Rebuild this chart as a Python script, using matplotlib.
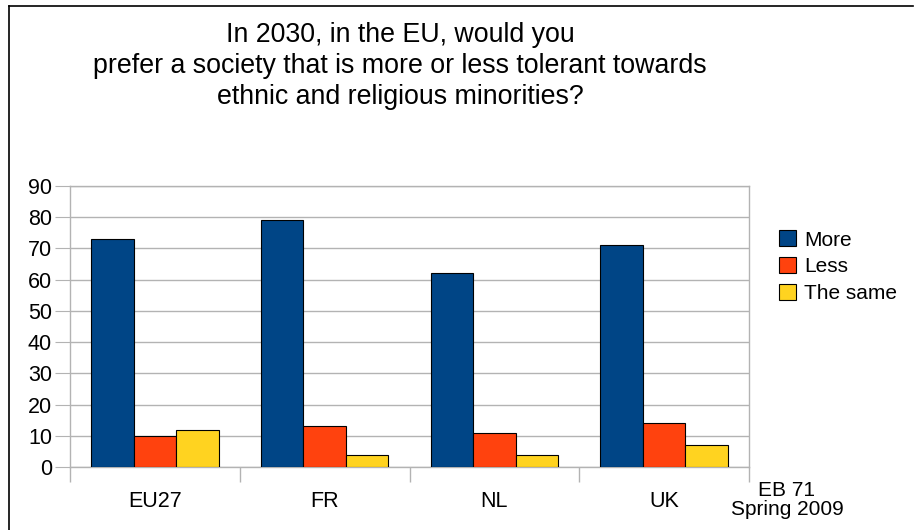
import numpy as np
import matplotlib.pyplot as plt
from matplotlib.lines import Line2D
from matplotlib.patches import Patch

# Eurobarometer 71 - tolerance towards minorities in 2030
countries = ['EU27', 'FR', 'NL', 'UK']
series_names = ['More', 'Less', 'The same']
more = [73, 79, 62, 71]
less = [10, 13, 11, 14]
same = [12, 4, 4, 7]
y_ticks = [0, 10, 20, 30, 40, 50, 60, 70, 80, 90]

colors = ['#004586', '#ff420e', '#ffd320']
grid_col = '#b3b3b3'

plt.rcParams['font.family'] = ['Liberation Sans', 'DejaVu Sans']

fig = plt.figure(figsize=(9.17, 5.30), dpi=100)
ax = fig.add_axes([70 / 917, 1 - 467 / 530, (749 - 70) / 917, (467 - 186) / 530])

x = np.arange(len(countries))
w = 0.25
for i, (vals, col) in enumerate(zip([more, less, same], colors)):
    ax.bar(x + (i - 1) * w, vals, width=w, color=col, edgecolor='black',
           linewidth=0.8, zorder=3)

ax.set_xlim(-0.5, len(countries) - 0.5)
ax.set_ylim(0, 90)
ax.set_yticks(y_ticks)
ax.tick_params(axis='y', length=11, color=grid_col, labelsize=15.5, pad=2)
ax.yaxis.grid(True, color=grid_col, linewidth=1, zorder=0)

# category labels centred, separator ticks between groups
ax.set_xticks(x)
ax.set_xticklabels(countries, fontsize=15.5)
ax.tick_params(axis='x', which='major', length=0, pad=17)
ax.set_xticks(np.arange(-0.5, len(countries)), minor=True)
ax.tick_params(axis='x', which='minor', length=11, color=grid_col, width=1)

for s in ax.spines.values():
    s.set_color(grid_col)
    s.set_linewidth(1)

handles = [Patch(facecolor=c, edgecolor='black', linewidth=0.8) for c in colors]
fig.legend(handles, series_names, loc='upper left', bbox_to_anchor=(771 / 917, 1 - 222 / 530),
           frameon=False, fontsize=15, handlelength=0.8, handleheight=0.8,
           handletextpad=0.4, labelspacing=0.36, borderaxespad=0)

fig.text(400 / 917, 1 - 66 / 530,
         'In 2030, in the EU, would you\nprefer a society that is more or less tolerant towards\n'
         'ethnic and religious minorities?',
         ha='center', va='center', fontsize=19.3, linespacing=1.25)

fig.text(787 / 917, 1 - 500 / 530, 'EB 71\nSpring 2009', ha='center', va='center',
         fontsize=15, linespacing=1.05)

# outer frame: top and left edges only
fig.add_artist(Line2D([9 / 917, 913 / 917], [1 - 6 / 530, 1 - 6 / 530], color='black', linewidth=1.2))
fig.add_artist(Line2D([9 / 917, 9 / 917], [0, 1 - 6 / 530], color='black', linewidth=1.2))

fig.savefig('out.png', dpi=100)
